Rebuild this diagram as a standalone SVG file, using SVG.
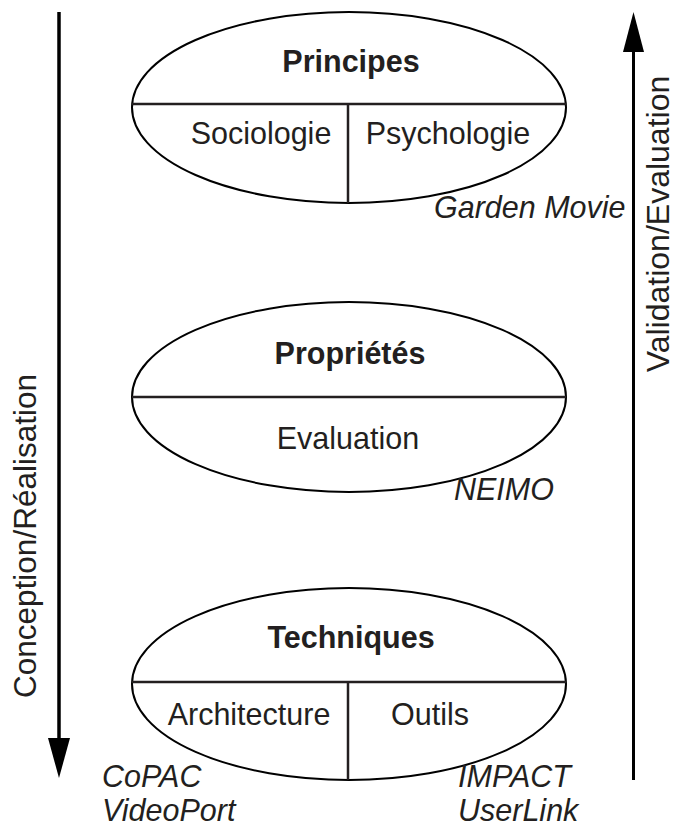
<svg xmlns="http://www.w3.org/2000/svg" width="675" height="827" viewBox="0 0 675 827">
<style>
text{font-family:"Liberation Sans",Arial,sans-serif;fill:#231f20;font-size:30.5px}
.b{font-weight:bold}
.i{font-style:italic}
.m{text-anchor:middle}
.r{font-size:31.5px}
.sh{fill:#fff;stroke:#000;stroke-width:2}
.dv{stroke:#231f20;stroke-width:2.5;fill:none}
.ax{stroke:#000;stroke-width:3.5;fill:none}
</style>
<rect width="675" height="827" fill="#fff"/>
<g id="connectors">
<line class="ax" x1="59" y1="12" x2="59" y2="742"/>
<polygon points="48,738 70,738 59,778" fill="#000"/>
<line class="ax" x1="633.5" y1="48" x2="633.5" y2="780" style="stroke-width:3"/>
<polygon points="623,52 644,52 633.5,12" fill="#000"/>
</g>
<g id="principes">
<ellipse class="sh" cx="349" cy="107.5" rx="217" ry="95.5"/>
<line class="dv" x1="132" y1="104" x2="566" y2="104"/>
<line class="dv" x1="348" y1="104" x2="348" y2="203"/>
<text class="b m" x="351" y="72">Principes</text>
<text class="m" x="261" y="144">Sociologie</text>
<text class="m" x="448" y="144">Psychologie</text>
</g>
<g id="proprietes">
<ellipse class="sh" cx="349" cy="397" rx="217" ry="95"/>
<line class="dv" x1="132" y1="397" x2="566" y2="397"/>
<text class="b m" x="350" y="364">Propriétés</text>
<text class="m" x="348" y="449">Evaluation</text>
</g>
<g id="techniques">
<ellipse class="sh" cx="349" cy="684" rx="217" ry="96"/>
<line class="dv" x1="132" y1="682" x2="566" y2="682"/>
<line class="dv" x1="348" y1="682" x2="348" y2="780"/>
<text class="b m" x="351" y="648">Techniques</text>
<text class="m" x="249" y="725">Architecture</text>
<text class="m" x="430" y="725">Outils</text>
</g>
<g id="labels">
<text class="i" x="434" y="218">Garden Movie</text>
<text class="i" x="454" y="500">NEIMO</text>
<text class="i" x="102" y="787">CoPAC</text>
<text class="i" x="102" y="821">VideoPort</text>
<text class="i" x="458" y="787">IMPACT</text>
<text class="i" x="458" y="821">UserLink</text>
<text class="r m" transform="translate(36,536) rotate(-90)">Conception/Réalisation</text>
<text class="r m" transform="translate(669,224) rotate(-90)" style="font-size:32px">Validation/Evaluation</text>
</g>
</svg>
